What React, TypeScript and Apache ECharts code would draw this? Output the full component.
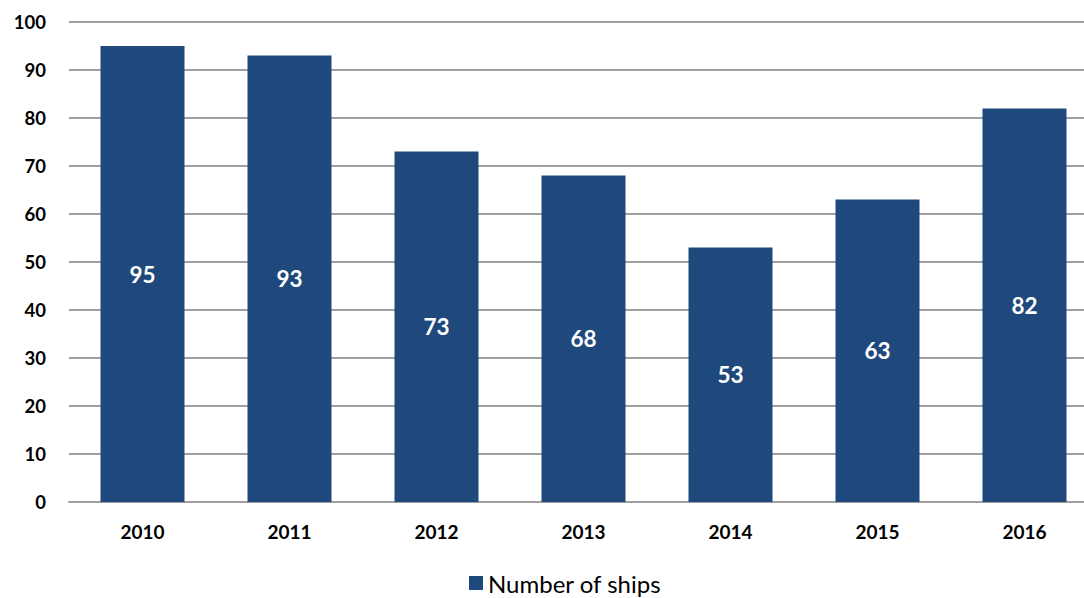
import React, { useEffect, useRef } from "react";
import * as echarts from "echarts";

const categories = ["2010", "2011", "2012", "2013", "2014", "2015", "2016"];
const ships = [95, 93, 73, 68, 53, 63, 82];
const seriesName = "Number of ships";

export default function App() {
  const ref = useRef<HTMLDivElement>(null);
  useEffect(() => {
    if (!ref.current) return;
    const chart = echarts.init(ref.current, undefined, { renderer: "svg" });
    chart.setOption({
      animation: false,
      textStyle: { fontFamily: "Lato" },
      grid: { left: 69, right: 12, top: 22, bottom: 96 },
      legend: {
        data: [seriesName],
        left: 464,
        top: 566,
        itemWidth: 14,
        itemHeight: 14,
        itemGap: 6,
        icon: "rect",
        textStyle: { fontFamily: "Lato", fontSize: 24, color: "#000" },
      },
      xAxis: {
        type: "category",
        data: categories,
        axisTick: { show: false },
        axisLine: { lineStyle: { color: "#a0a0a0", width: 2 } },
        axisLabel: { color: "#000", fontWeight: "bold", fontSize: 19, margin: 20, fontFamily: "Lato" },
      },
      yAxis: {
        type: "value",
        min: 0,
        max: 100,
        interval: 10,
        axisLine: { show: false },
        axisTick: { show: false },
        splitLine: { lineStyle: { color: "#a0a0a0", width: 2 } },
        axisLabel: { color: "#000", fontWeight: "bold", fontSize: 18.5, margin: 23, fontFamily: "Lato" },
      },
      series: [
        {
          name: seriesName,
          type: "bar",
          data: ships,
          barWidth: 84,
          itemStyle: { color: "#1f497d" },
          label: {
            show: true,
            position: "inside",
            color: "#fff",
            fontWeight: "bold",
            fontSize: 22.5,
            fontFamily: "Lato",
          },
        },
      ],
    });
    return () => chart.dispose();
  }, []);
  return (
    <div style={{ position: "fixed", left: 0, top: 0, width: 1084, height: 598, overflow: "hidden", background: "#fff" }}>
      <div ref={ref} style={{ width: 1110, height: 598 }} />
    </div>
  );
}
